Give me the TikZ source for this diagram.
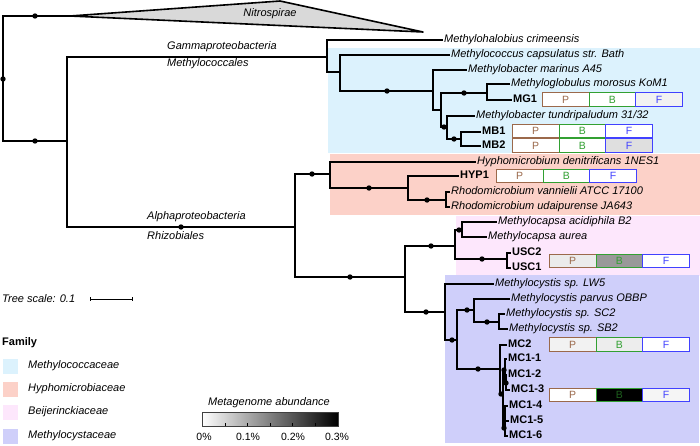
\documentclass[tikz,border=0pt]{standalone}
\usepackage{fontspec}
\setmainfont{Liberation Sans}
\definecolor{cocc}{RGB}{220,242,253}
\definecolor{hyph}{RGB}{252,209,200}
\definecolor{beij}{RGB}{253,231,252}
\definecolor{cyst}{RGB}{207,207,250}
\definecolor{pcol}{RGB}{155,105,75}
\definecolor{bcol}{RGB}{50,160,50}
\definecolor{fcol}{RGB}{65,65,255}
\begin{document}
\begin{tikzpicture}[x=1pt,y=-1pt,
  br/.style={line width=2.2pt},
  taxon/.style={anchor=west,inner sep=1pt,text height=8pt,text depth=2.4pt,font=\fontsize{11}{13}\selectfont\itshape},
  strain/.style={anchor=west,inner sep=1pt,text height=8pt,text depth=2.4pt,font=\fontsize{11}{13}\selectfont\bfseries},
  clade/.style={anchor=west,inner sep=0pt,font=\fontsize{11}{13}\selectfont\itshape},
  cell/.style={draw,anchor=west,minimum width=46.5pt,minimum height=13.5pt,inner sep=0pt,line width=0.9pt,font=\fontsize{10.5}{12}\selectfont}]
\useasboundingbox (0,0) rectangle (700,445);
\fill[cocc] (328,48) rectangle (700,153);
\fill[hyph] (330,154) rectangle (700,215);
\fill[beij] (456,216) rectangle (700,276);
\fill[cyst] (445,275) rectangle (699,443);

\coordinate (root) at (3,79);
\coordinate (nit) at (70,16);
\coordinate (n1) at (67,141);
\coordinate (n2) at (327,57);
\coordinate (n3) at (340,72);
\coordinate (n4) at (433,91);
\coordinate (n5) at (441,110);
\coordinate (n6) at (487,93);
\coordinate (n7) at (447,127);
\coordinate (n8) at (461,139);
\coordinate (n9) at (295,227);
\coordinate (n10) at (330,174);
\coordinate (n11) at (408,188);
\coordinate (n12) at (446,200);
\coordinate (n13) at (405,277);
\coordinate (n14) at (455,246);
\coordinate (n15) at (462,230);
\coordinate (n16) at (507,259);
\coordinate (n17) at (445,312);
\coordinate (n18) at (457,340);
\coordinate (n19) at (474,310);
\coordinate (n20) at (499,322);
\coordinate (n21) at (500,369);
\coordinate (n22) at (503,394);
\coordinate (n23) at (505,370);
\coordinate (n24) at (506,383);
\coordinate (n25) at (505,428);

\node[taxon] (Mhal) at (443,40) {Methylohalobius crimeensis};
\node[taxon] (Mcap) at (450,55) {Methylococcus capsulatus str. Bath};
\node[taxon] (Mmar) at (467,70) {Methylobacter marinus A45};
\node[taxon] (Mglo) at (510,84) {Methyloglobulus morosus KoM1};
\node[strain] (MG1) at (512,100) {MG1};
\node[taxon] (Mtun) at (475,116) {Methylobacter tundripaludum 31/32};
\node[strain] (MB1) at (481,132) {MB1};
\node[strain] (MB2) at (481,146) {MB2};
\node[taxon] (Hden) at (476,162) {Hyphomicrobium denitrificans 1NES1};
\node[strain] (HYP1) at (459,176) {HYP1};
\node[taxon] (Rvan) at (450,192) {Rhodomicrobium vannielii ATCC 17100};
\node[taxon] (Rudi) at (450,207) {Rhodomicrobium udaipurense JA643};
\node[taxon] (Macd) at (497,222) {Methylocapsa acidiphila B2};
\node[taxon] (Maur) at (487,237) {Methylocapsa aurea};
\node[strain] (USC2) at (511,253) {USC2};
\node[strain] (USC1) at (511,268) {USC1};
\node[taxon] (LW5) at (494,284) {Methylocystis sp. LW5};
\node[taxon] (Mpar) at (510,299) {Methylocystis parvus OBBP};
\node[taxon] (SC2) at (505,314) {Methylocystis sp. SC2};
\node[taxon] (SB2) at (508,329) {Methylocystis sp. SB2};
\node[strain] (MC2) at (507,345) {MC2};
\foreach \i/\lx/\ly in {1/507/359,2/507/375,3/510/390,4/508/406,5/509/421,6/508/436}
  \node[strain] (MCi\i) at (\lx,\ly) {MC1-\i};

\draw[br] (root) |- (nit);
\draw[br] (root) |- (n1);
\draw[line width=1.6pt,fill=gray!30,line join=round] (nit) -- (280,1) -- (423,32) -- cycle;
\node[clade,anchor=center] (nitlab) at (270,14) {Nitrospirae};
\draw[br] (n1) |- (n2);
\draw[br] (n1) |- (n9);
\draw[br] (n2) |- (Mhal.west);
\draw[br] (n2) |- (n3);
\draw[br] (n3) |- (Mcap.west);
\draw[br] (n3) |- (n4);
\draw[br] (n4) |- (Mmar.west);
\draw[br] (n4) |- (n5);
\draw[br] (n5) |- (n6);
\draw[br] (n6) |- (Mglo.west);
\draw[br] (n6) |- (MG1.west);
\draw[br] (n5) |- (n7);
\draw[br] (n7) |- (Mtun.west);
\draw[br] (n7) |- (n8);
\draw[br] (n8) |- (MB1.west);
\draw[br] (n8) |- (MB2.west);
\draw[br] (n9) |- (n10);
\draw[br] (n10) |- (Hden.west);
\draw[br] (n10) |- (n11);
\draw[br] (n11) |- (HYP1.west);
\draw[br] (n11) |- (n12);
\draw[br] (n12) |- (Rvan.west);
\draw[br] (n12) |- (Rudi.west);
\draw[br] (n9) |- (n13);
\draw[br] (n13) |- (n14);
\draw[br] (n14) |- (n15);
\draw[br] (n15) |- (Macd.west);
\draw[br] (n15) |- (Maur.west);
\draw[br] (n14) |- (n16);
\draw[br] (n16) |- (USC2.west);
\draw[br] (n16) |- (USC1.west);
\draw[br] (n13) |- (n17);
\draw[br] (n17) |- (LW5.west);
\draw[br] (n17) |- (n18);
\draw[br] (n18) |- (n19);
\draw[br] (n19) |- (Mpar.west);
\draw[br] (n19) |- (n20);
\draw[br] (n20) |- (SC2.west);
\draw[br] (n20) |- (SB2.west);
\draw[br] (n18) |- (n21);
\draw[br] (n21) |- (MC2.west);
\draw[br] (n21) |- (n22);
\draw[br] (n22) |- (n23);
\draw[br] (n23) |- (MCi1.west);
\draw[br] (n23) |- (n24);
\draw[br] (n24) |- (MCi2.west);
\draw[br] (n24) |- (MCi3.west);
\draw[br] (n22) |- (n25);
\foreach \j in {4,5,6} \draw[br] (n25) |- (MCi\j.west);

\foreach \dx/\dy in {35/16,3/79,35/141,181/227,387/91,464/93,444/127,454/139,312/174,369/188,427/200,350/277,431/246,459/230,482/259,426/312,452/340,467/310,487/322,478/369,504/370,506/383,501/394,504/428}
  \fill (\dx,\dy) circle (2.7pt);

\node[clade] (gam) at (167,47) {Gammaproteobacteria};
\node[clade] (mcoc) at (167,64) {Methylococcales};
\node[clade] (alp) at (147,217) {Alphaproteobacteria};
\node[clade] (rhiz) at (147,236) {Rhizobiales};

\foreach \nm/\bx/\by/\fp/\fb/\tb/\ff in {MGa/542/99.5/white/white/bcol/gray!10,MBa/512/131/white/white/bcol/white,MBb/512/145.5/white/white/bcol/gray!25,HYa/496/176/white/white/bcol/white,USa/549/261/gray!16/gray!80/bcol/white,MCb/549/344.5/gray!10/gray!14/bcol/white,MCa/549/395/white/black/bcol!60!black/gray!8} {
  \node[cell,draw=pcol,text=pcol,fill=\fp] (\nm P) at (\bx,\by) {P};
  \node[cell,draw=bcol,text=\tb,fill=\fb] (\nm B) at ({\bx+46.7},\by) {B};
  \node[cell,draw=fcol,text=fcol,fill=\ff] (\nm F) at ({\bx+93.4},\by) {F};
}

\node[clade] (tsc) at (2,299) {Tree scale: 0.1};
\draw[line width=0.8pt] (90,299) -- (132,299);
\draw[line width=0.8pt] (90,297) -- (90,301) (132,297) -- (132,301);

\node[anchor=west,inner sep=0pt,font=\fontsize{11}{13}\selectfont\bfseries] (fam) at (2,343) {Family};
\foreach \c/\fy/\ft in {cocc/366/Methylococcaceae,hyph/389/Hyphomicrobiaceae,beij/412/Beijerinckiaceae,cyst/436/Methylocystaceae} {
  \fill[\c] (3,\fy-7.5) rectangle (18,\fy+7.5);
  \node[clade] (\c lab) at (28,\fy) {\ft};
}

\node[clade,anchor=center] (abund) at (269,403) {Metagenome abundance};
\shade[left color=white,right color=black] (202,412) rectangle (338,426);
\draw[gray!50!black,line width=0.6pt] (202,412) rectangle (338,426);
\foreach \t in {225,247,270,292,315} \draw[line width=0.6pt] (\t,426) -- (\t,422.5);
\foreach \t/\tl in {204/0\%,248/0.1\%,293/0.2\%,337/0.3\%}
  \node[inner sep=0pt,font=\fontsize{10.5}{12}\selectfont] at (\t,437) {\tl};
\end{tikzpicture}
\end{document}
